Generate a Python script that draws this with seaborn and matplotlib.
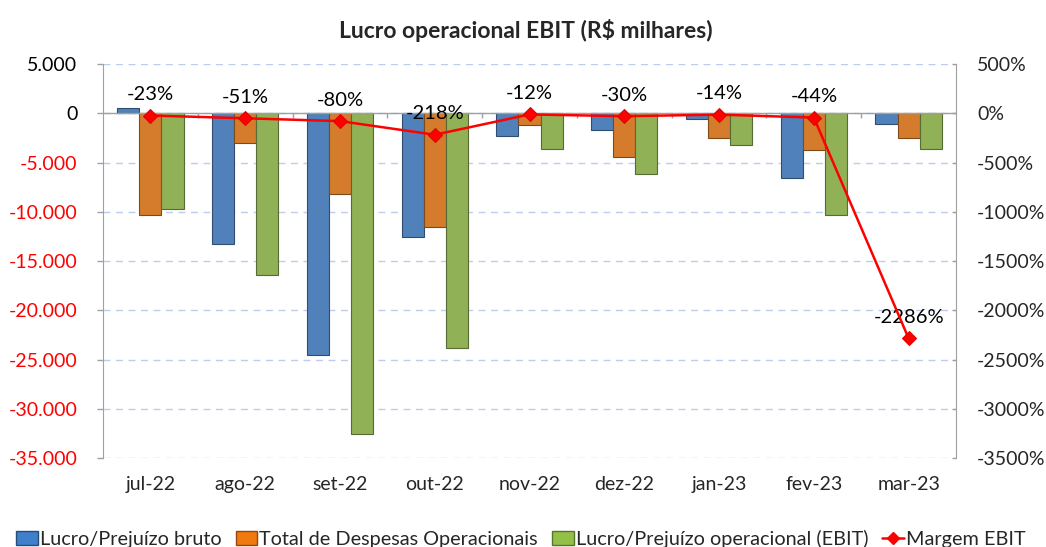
import numpy as np
import pandas as pd
import matplotlib
matplotlib.use("Agg")
import matplotlib.pyplot as plt
import matplotlib.colors as mcolors
from matplotlib.patches import Patch
from matplotlib.lines import Line2D
import seaborn as sns

# data (R$ thousands)
meses = ['jul-22', 'ago-22', 'set-22', 'out-22', 'nov-22', 'dez-22', 'jan-23', 'fev-23', 'mar-23']
lucro_bruto = [580, -13320, -24580, -12550, -2300, -1660, -610, -6560, -1050]
despesas_oper = [-10280, -2970, -8220, -11530, -1220, -4430, -2500, -3750, -2500]
ebit = [-9670, -16400, -32600, -23870, -3620, -6150, -3210, -10280, -3620]
margem_ebit = [-23, -51, -80, -218, -12, -30, -14, -44, -2286]

series = ['Lucro/Prejuízo bruto', 'Total de Despesas Operacionais', 'Lucro/Prejuízo operacional (EBIT)']
cores = ['#3f7fcc', '#f07a10', '#95c048']

df = pd.DataFrame({
    'mes': meses * 3,
    'serie': [s for s in series for _ in meses],
    'valor': lucro_bruto + despesas_oper + ebit,
})

sns.set_style('white')
plt.rcParams['font.family'] = ['Lato', 'DejaVu Sans']

fig = plt.figure(figsize=(10.46, 5.47), dpi=100)
ax = fig.add_axes([0.0985, 0.1627, 0.8155, 0.7203])

sns.barplot(data=df, x='mes', y='valor', hue='serie', order=meses, hue_order=series,
            palette=cores, width=0.7, gap=0, legend=False, ax=ax)
for p in ax.patches:
    fc = mcolors.to_rgb(p.get_facecolor())
    p.set_edgecolor(tuple(c * 0.6 for c in fc))
    p.set_linewidth(0.8)

yt = np.arange(-35000, 5001, 5000)
ax.set_ylim(-35000, 5000)
ax.set_xlim(-0.5, len(meses) - 0.5)
ax.set_yticks(yt)
ax.set_yticklabels([f"{int(v):,}".replace(",", ".") for v in yt], fontsize=14)
for lbl, v in zip(ax.get_yticklabels(), yt):
    lbl.set_color('#ff0000' if v < 0 else 'black')
ax.set_xticks(range(len(meses)))
ax.set_xticklabels(meses, fontsize=14)
ax.tick_params(axis='x', length=0, pad=13)
ax.tick_params(axis='y', length=4.5, width=1, color='#a0a0a0', direction='out', left=True, pad=14)
ax.set_xlabel('')
ax.set_ylabel('')
ax.yaxis.grid(True, linestyle=(0, (5, 4)), color='#bccdee', linewidth=1)
ax.set_axisbelow(True)
for s in ['top', 'bottom', 'right']:
    ax.spines[s].set_visible(False)
ax.spines['left'].set_color('#a0a0a0')

# zero line with category tick marks
ax.axhline(0, color='#a0a0a0', linewidth=1, zorder=1)
ax.vlines(np.arange(0.5, len(meses) - 0.5), -500, 0, color='#a0a0a0', linewidth=1, zorder=1)

ax2 = ax.twinx()
sns.lineplot(x=np.arange(len(meses)), y=margem_ebit, ax=ax2, color='#ff0000', marker='D',
             markersize=7, markeredgecolor='#e00000', linewidth=1.8, zorder=5)
yt2 = np.arange(-3500, 501, 500)
ax2.set_ylim(-3500, 500)
ax2.set_yticks(yt2)
ax2.set_yticklabels([f"{int(v)}%" for v in yt2], fontsize=14)
ax2.tick_params(axis='y', length=3, width=1, color='#a0a0a0', direction='in', right=True, pad=15)
for s in ['top', 'bottom', 'left']:
    ax2.spines[s].set_visible(False)
ax2.spines['right'].set_color('#a0a0a0')

for i, v in enumerate(margem_ebit):
    ax2.annotate(f"{v}%", (i, v), xytext=(0, 15), textcoords='offset points',
                 ha='center', va='center', fontsize=14.5, color='black')

fig.text(0.503, 0.945, 'Lucro operacional EBIT (R$ milhares)', ha='center', va='center',
         fontsize=16.5, fontweight='bold')

handles = [Patch(facecolor=c, edgecolor=tuple(x * 0.6 for x in mcolors.to_rgb(c))) for c in cores]
handles.append(Line2D([], [], color='#ff0000', marker='D', markersize=6, linewidth=1.8))
fig.legend(handles, series + ['Margem EBIT'], loc='center', bbox_to_anchor=(0.498, 1 - 539 / 547),
           ncol=4, frameon=False, fontsize=14.3, handlelength=1.1, handleheight=0.7,
           handletextpad=0.1, columnspacing=0.7, borderpad=0)

fig.savefig('out.png', dpi=100)
